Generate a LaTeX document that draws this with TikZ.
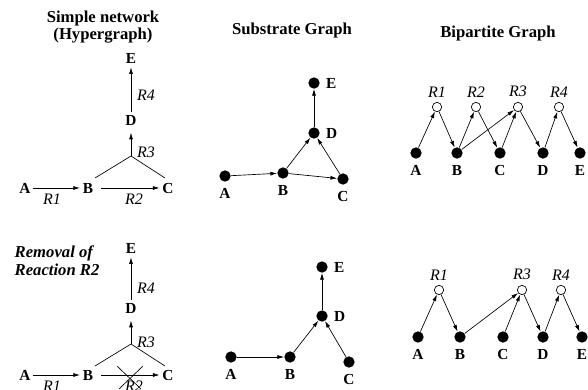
\documentclass[tikz,border=0pt]{standalone}
\usepackage{fontspec}
\setmainfont{Liberation Serif}
\usetikzlibrary{arrows.meta,positioning}
\tikzset{
  subst/.style={circle,fill=black,minimum size=8.5pt,inner sep=0pt},
  reac/.style={circle,draw=black,fill=white,line width=0.5pt,minimum size=7pt,inner sep=0pt},
  lbl/.style={font=\fontsize{11.5}{13}\selectfont\bfseries,inner sep=2pt},
  rlbl/.style={font=\fontsize{12}{13}\selectfont\itshape,inner sep=1pt},
  ttl/.style={font=\fontsize{12.5}{13}\selectfont\bfseries,align=center},
  arr/.style={-{Latex[length=5pt,width=3pt]},line width=0.5pt},
  branch/.style={line width=0.5pt},
  dn/.style={label={[lbl,label distance=2.5pt]below:#1}},
  rt/.style={label={[lbl,label distance=2.5pt]right:#1}},
  up/.style={label={[rlbl,label distance=2.5pt]above:#1}}
}

\begin{document}
\begin{tikzpicture}[x=0.75pt,y=-0.75pt]
  \useasboundingbox (0,0) rectangle (588,389);

  % titles
  \node[ttl] (t1) at (103,27) {Simple network\\(Hypergraph)};
  \node[ttl] (t2) at (292,30) {Substrate Graph};
  \node[ttl] (t3) at (498,33) {Bipartite Graph};
  \node[ttl,font=\fontsize{12.5}{13.5}\selectfont\bfseries\itshape,align=left,anchor=west]
    (t4) at (10,261) {Removal of\\Reaction R2};

  % hypergraph, full network
  \node[lbl] (hE) at (131,58) {E};
  \node[lbl] (hD) at (131,120) {D};
  \node[lbl] (hA) at (25,188) {A};
  \node[lbl] (hB) at (88,188) {B};
  \node[lbl] (hC) at (168,188) {C};
  \coordinate (hJ) at (131,156);
  \coordinate (hJl) at (95,178);
  \coordinate (hJr) at (165,178);
  \draw[arr] (hA) -- (hB);
  \draw[arr,shorten <=4pt] (hB) -- (hC);
  \draw[branch] (hJl) -- (hJ) -- (hJr);
  \draw[arr,shorten >=3.5pt] (hJ) -- (hD);
  \draw[arr,shorten >=1pt] (hD) -- (hE);
  \node[rlbl] (hR1) at (52,199) {R1};
  \node[rlbl] (hR2) at (134,199) {R2};
  \node[rlbl] (hR3) at (146,152) {R3};
  \node[rlbl] (hR4) at (146,95) {R4};

  % hypergraph, R2 removed
  \begin{scope}[shift={(0,187)}]
    \node[lbl] (kE) at (131,61) {E};
    \node[lbl] (kD) at (131,121) {D};
    \node[lbl] (kA) at (25,188) {A};
    \node[lbl] (kB) at (88,188) {B};
    \node[lbl] (kC) at (168,188) {C};
    \coordinate (kJ) at (131,157);
    \coordinate (kJl) at (95,179);
    \coordinate (kJr) at (165,179);
    \draw[arr] (kA) -- (kB);
    \draw[arr,shorten <=4pt] (kB) -- (kC);
    \draw[branch] (kJl) -- (kJ) -- (kJr);
    \draw[arr,shorten >=3.5pt] (kJ) -- (kD);
    \draw[arr,shorten >=1pt] (kD) -- (kE);
    \node[rlbl] (kR1) at (52,199) {R1};
    \node[rlbl] (kR2) at (134,199) {R2};
    \node[rlbl] (kR3) at (146,155) {R3};
    \node[rlbl] (kR4) at (146,101) {R4};
    % cross over R2
    \draw[branch] (117,179) -- (141,202);
    \draw[branch] (143,179) -- (119,202);
  \end{scope}

  % substrate graph
  \node[subst,dn=A] (sA) at (225,176) {};
  \node[subst,dn=B] (sB) at (283,173) {};
  \node[subst,dn=C] (sC) at (343,179) {};
  \node[subst,rt=D] (sD) at (314,133) {};
  \node[subst,rt=E] (sE) at (314,83) {};
  \draw[arr] (sA) -- (sB);
  \draw[arr] (sB) -- (sC);
  \draw[arr] (sB) -- (sD);
  \draw[arr] (sC) -- (sD);
  \draw[arr] (sD) -- (sE);

  \node[subst,dn=A] (uA) at (231,357) {};
  \node[subst,dn=B] (uB) at (290,357) {};
  \node[subst,dn=C] (uC) at (349,362) {};
  \node[subst,rt=D] (uD) at (322,316) {};
  \node[subst,rt=E] (uE) at (322,267) {};
  \draw[arr] (uA) -- (uB);
  \draw[arr] (uB) -- (uD);
  \draw[arr] (uC) -- (uD);
  \draw[arr] (uD) -- (uE);

  % bipartite graph
  \node[reac,up=R1] (bR1) at (437,107) {};
  \node[reac,up=R2] (bR2) at (476,107) {};
  \node[reac,up=R3] (bR3) at (518,107) {};
  \node[reac,up=R4] (bR4) at (559,107) {};
  \node[subst,dn=A] (bA) at (416,153) {};
  \node[subst,dn=B] (bB) at (457,153) {};
  \node[subst,dn=C] (bC) at (500,153) {};
  \node[subst,dn=D] (bD) at (543,153) {};
  \node[subst,dn=E] (bE) at (580,153) {};
  \draw[arr] (bA) -- (bR1);
  \draw[arr] (bR1) -- (bB);
  \draw[arr] (bB) -- (bR2);
  \draw[arr] (bR2) -- (bC);
  \draw[arr] (bB) -- (bR3);
  \draw[arr] (bC) -- (bR3);
  \draw[arr] (bR3) -- (bD);
  \draw[arr] (bD) -- (bR4);
  \draw[arr] (bR4) -- (bE);

  \node[reac,up=R1] (cR1) at (439,290) {};
  \node[reac,up=R3] (cR3) at (522,290) {};
  \node[reac,up=R4] (cR4) at (561,290) {};
  \node[subst,dn=A] (cA) at (418,337) {};
  \node[subst,dn=B] (cB) at (460,337) {};
  \node[subst,dn=C] (cC) at (503,337) {};
  \node[subst,dn=D] (cD) at (543,337) {};
  \node[subst,dn=E] (cE) at (582,337) {};
  \draw[arr] (cA) -- (cR1);
  \draw[arr] (cR1) -- (cB);
  \draw[arr] (cB) -- (cR3);
  \draw[arr] (cC) -- (cR3);
  \draw[arr] (cR3) -- (cD);
  \draw[arr] (cD) -- (cR4);
  \draw[arr] (cR4) -- (cE);
\end{tikzpicture}
\end{document}
